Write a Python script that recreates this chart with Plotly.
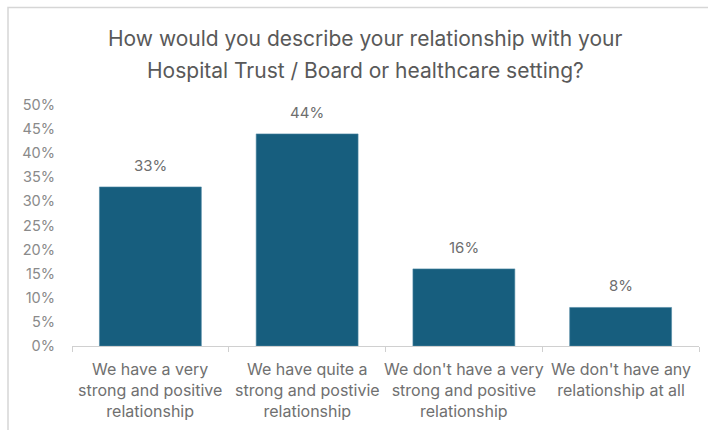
import plotly.graph_objects as go

# Survey responses
categories = [
    "We have a very<br>strong and positive<br>relationship",
    "We have quite a<br>strong and postivie<br>relationship",
    "We don't have a very<br>strong and positive<br>relationship",
    "We don't have any<br>relationship at all",
]
shares = [33, 44, 16, 8]
tick_values = [0, 5, 10, 15, 20, 25, 30, 35, 40, 45, 50]
tick_labels = [f"{v}%" for v in tick_values]

title_lines = [
    "How would you describe your relationship with your",
    "Hospital Trust / Board or healthcare setting?",
]

W, H = 708, 430
ML, MR, MT, MB = 72, 9, 105, 84
PW, PH = W - ML - MR, H - MT - MB
FONT = "Inter, Roboto, Arial, sans-serif"


def px_x(x):
    return (x - ML) / PW


def px_y(y):
    return (H - MB - y) / PH


fig = go.Figure(
    go.Bar(
        x=categories,
        y=shares,
        marker=dict(color="#175E7E", line=dict(color="#4E86A3", width=0.6)),
        hoverinfo="skip",
    )
)

# Value labels above each bar
for cat, v in zip(categories, shares):
    fig.add_annotation(x=cat, y=v, text=f"{v}%", showarrow=False,
                       yanchor="bottom", yshift=10,
                       font=dict(size=15, color="#6e6e6e", family=FONT))

# Category labels under the axis
for cat in categories:
    fig.add_annotation(x=cat, xref="x", y=px_y(357), yref="paper", text=cat,
                       showarrow=False, yanchor="top", align="center",
                       font=dict(size=16, color="#707070", family=FONT))

# Two-line title
for line, yc in zip(title_lines, [38, 70]):
    fig.add_annotation(x=px_x(365), xref="paper", y=px_y(yc), yref="paper",
                       text=line, showarrow=False, xanchor="center",
                       yanchor="middle",
                       font=dict(size=21, color="#595959", family=FONT))

# Chart frame: visible along the top and left edges
fig.add_shape(type="rect", xref="paper", yref="paper",
              x0=px_x(8), x1=px_x(W + 10), y0=px_y(7.5), y1=px_y(H + 10),
              line=dict(color="#d6d6d6", width=1.5), fillcolor="rgba(0,0,0,0)")

fig.update_layout(
    width=W,
    height=H,
    margin=dict(l=ML, r=MR, t=MT, b=MB),
    paper_bgcolor="white",
    plot_bgcolor="white",
    bargap=0.35,
    showlegend=False,
    font=dict(family=FONT),
)

fig.update_yaxes(
    range=[0, 50],
    tickvals=tick_values,
    ticktext=tick_labels,
    showgrid=False,
    zeroline=False,
    showline=False,
    ticks="",
    tickfont=dict(size=14.5, color="#8a8a8a", family=FONT),
    ticklabelstandoff=16,
)

fig.update_xaxes(
    showline=True,
    linecolor="#d0d0d0",
    linewidth=1,
    ticks="outside",
    tickson="boundaries",
    ticklen=5,
    tickcolor="#d0d0d0",
    showgrid=False,
    showticklabels=False,
)

fig.write_html("out.html")
